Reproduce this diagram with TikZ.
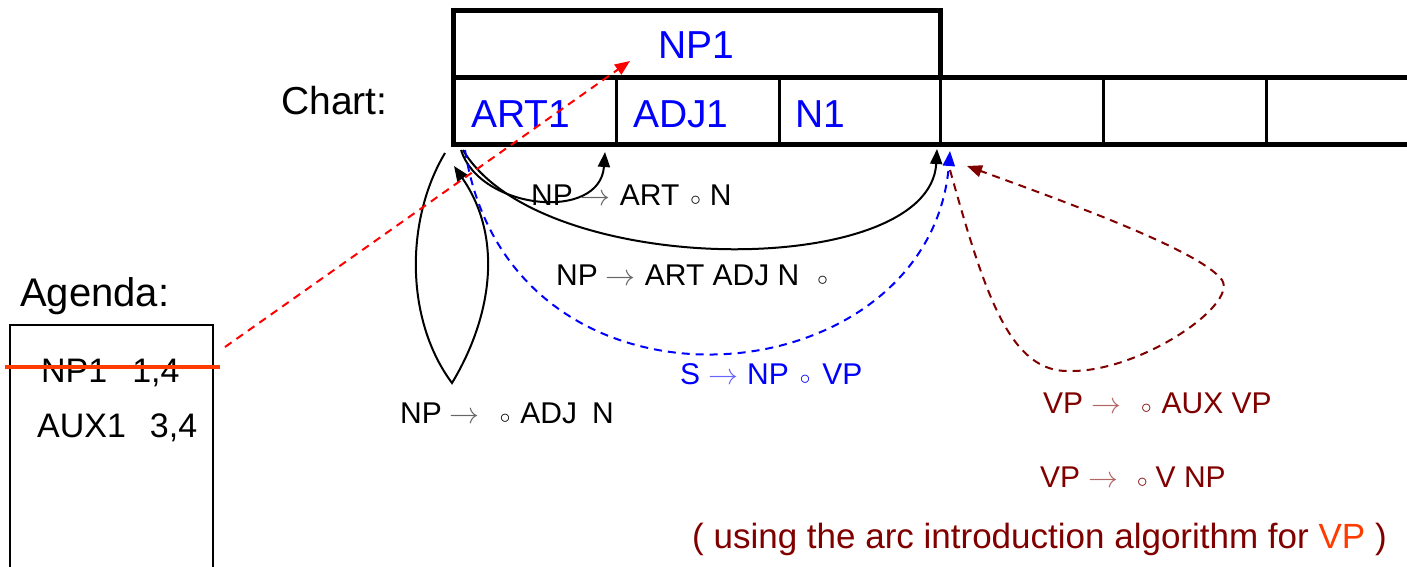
\documentclass[tikz,border=0pt]{standalone}
\usepackage{fontspec}
\setmainfont{Liberation Sans}
\DeclareFontShape{OMS}{cmsy}{m}{n}{<->cmsy10}{}
\DeclareFontShape{OML}{cmm}{m}{it}{<->cmmi10}{}
\usetikzlibrary{arrows.meta}
\definecolor{myblue}{RGB}{0,0,255}
\definecolor{mydarkred}{RGB}{128,0,0}
\definecolor{myorange}{RGB}{255,60,0}
\definecolor{myred}{RGB}{255,0,0}
\newcommand{\myarr}[1]{\textcolor{#1}{$\rightarrow$}}
\newcommand{\mycirc}{$\scriptstyle\circ$}
\tikzset{
  bigtxt/.style={font=\fontsize{39}{44}\selectfont, inner sep=0pt, anchor=base west},
  agtxt/.style={font=\fontsize{34}{40}\selectfont, inner sep=0pt, anchor=base west},
  ruletxt/.style={font=\fontsize{30}{36}\selectfont, inner sep=0pt, anchor=base west},
  notetxt/.style={font=\fontsize{35}{40}\selectfont, inner sep=0pt, anchor=base west},
  thickline/.style={line width=5pt},
  cellline/.style={line width=3pt},
  arcline/.style={line width=2pt, -{Triangle[length=15pt,width=12pt]}},
  dashline/.style={line width=2pt, dash pattern=on 8pt off 6pt, -{Triangle[length=15pt,width=12pt]}},
}
\begin{document}
\begin{tikzpicture}[x=1pt,y=-1pt]
\useasboundingbox (0,0) rectangle (1407,566);
% chart
\draw[thickline] (453,7.5) -- (453,146.5);
\draw[thickline, line join=miter] (450.5,10) -- (940,10) -- (940,79);
\draw[thickline] (450.5,77) -- (1407,77);
\draw[thickline] (450.5,144) -- (1407,144);
\foreach \x in {616,779,940,1103,1266} \draw[cellline] (\x,77) -- (\x,144);
\node[bigtxt, text=myblue] (np1) at (658,58) {NP1};
\node[bigtxt, text=myblue] (art1) at (471,127) {ART1};
\node[bigtxt, text=myblue] (adj1) at (633,127) {ADJ1};
\node[bigtxt, text=myblue] (n1) at (795,127) {N1};
\node[bigtxt] (chart) at (281,114) {Chart:};
% agenda
\node[bigtxt, font=\fontsize{40}{44}\selectfont] (agenda) at (20,306) {Agenda:};
\draw[line width=1.5pt] (10,570) -- (10,325) -- (213,325) -- (213,570);
\node[agtxt] (ag1) at (41,382) {NP1\hspace{25pt}1,4};
\node[agtxt] (ag2) at (37,437) {AUX1\hspace{24pt}3,4};
\coordinate (strikeL) at (5,367);
\coordinate (strikeR) at (220,367);
\draw[line width=4.5pt, myorange] (strikeL) -- (strikeR);
% anchor points on the chart
\coordinate (p0a) at (461,150);
\coordinate (p0b) at (463,150);
\coordinate (p0c) at (465,150);
\coordinate (p1) at (605,152);
\coordinate (p3) at (937,149);
\coordinate (p3b) at (950,151);
\coordinate (loopS) at (445,153);
\coordinate (loopB) at (452,383);
\coordinate (loopE) at (454,166);
\coordinate (agOut) at (225,347);
\coordinate (np1In) at (630,61);
% loop
\draw[arcline] (loopS) .. controls (405,220) and (405,320) .. (loopB)
   .. controls (490,320) and (505,240) .. (loopE);
% short arc
\draw[arcline] (p0a) .. controls (480,210) and (600,222) .. (p1);
% long arc
\draw[arcline] (p0b) .. controls (540,280) and (930,280) .. (p3);
% blue dashed
\draw[dashline, myblue] (p0c) .. controls (510,440) and (930,400) .. (p3b);
% dark red dashed loop
\coordinate (vpS) at (950,170);
\coordinate (vpB) at (1070,371);
\coordinate (vpR) at (1222,280);
\coordinate (vpE) at (967,166);
\draw[dashline, mydarkred] (vpS) .. controls (985,295) and (1010,373) .. (vpB)
   .. controls (1140,372) and (1238,305) .. (vpR)
   .. controls (1200,250) and (1060,200) .. (vpE);
% red dashed from agenda to chart
\draw[dashline, myred] (agOut) -- (np1In);
% rule labels
\node[ruletxt] (r1) at (531,205) {NP\hspace{8pt}\myarr{black!60}\hspace{9pt}ART\hspace{11pt}\mycirc\hspace{9pt}N};
\node[ruletxt] (r2) at (556,285) {NP\hspace{8pt}\myarr{black!60}\hspace{9pt}ART ADJ N\hspace{18pt}\mycirc};
\node[ruletxt, text=myblue] (r3) at (680,384) {S\hspace{8pt}\myarr{myblue!60}\hspace{9pt}NP\hspace{11pt}\mycirc\hspace{12pt}VP};
\node[ruletxt] (r4) at (400,423) {NP\hspace{8pt}\myarr{black!60}\hspace{20pt}\mycirc\hspace{10pt}ADJ\hspace{15pt}N};
\node[ruletxt, text=mydarkred] (r5) at (1043,413) {VP\hspace{8pt}\myarr{mydarkred!60}\hspace{20pt}\mycirc\hspace{10pt}AUX VP};
\node[ruletxt, text=mydarkred] (r6) at (1040,487) {VP\hspace{8pt}\myarr{mydarkred!60}\hspace{19pt}\mycirc\hspace{8pt}V NP};
\node[notetxt, text=mydarkred] (note) at (692,548) {( using the arc introduction algorithm for \textcolor{myorange}{VP} )};
\end{tikzpicture}
\end{document}
